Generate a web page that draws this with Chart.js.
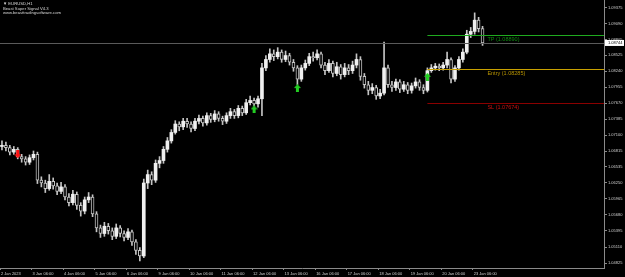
<!DOCTYPE html>
<html><head><meta charset="utf-8">
<script src="https://cdn.jsdelivr.net/npm/chart.js@4/dist/chart.umd.min.js"></script>
<style>html,body{margin:0;padding:0;background:#000;overflow:hidden}#wrap{width:625px;height:277px;position:relative}</style>
</head><body><div id="wrap"><canvas id="c" width="625" height="277"></canvas></div>
<script>
const titleLines = ['\u25BC EURUSD,H1', 'Beast Super Signal V4.3', 'www.beasttradingsoftware.com'];
const dayLabels = ['2 Jan 2023','3 Jan 06:00','4 Jan 06:00','5 Jan 06:00','6 Jan 06:00','9 Jan 06:00','10 Jan 06:00','11 Jan 06:00','12 Jan 06:00','13 Jan 06:00','16 Jan 06:00','17 Jan 06:00','18 Jan 06:00','19 Jan 06:00','20 Jan 06:00','23 Jan 06:00'];
const dayTickHours = [0,24,48,72,96,120,144,168,192,216,240,264,288,312,336,360];
const priceTicks = [1.04825,1.05110,1.05395,1.05680,1.05965,1.06250,1.06535,1.06815,1.07100,1.07385,1.07670,1.07955,1.08240,1.08525,1.08805,1.09090,1.09375];

const opens = [1.0690,1.0692,1.0688,1.0680,1.0685,1.0672,1.0668,1.0662,1.0670,1.0676,
1.0630,1.0625,1.0615,1.0628,1.0620,1.0610,1.0618,1.0600,1.0590,1.0605,
1.0585,1.0575,1.0595,1.0600,1.0570,1.0545,1.0535,1.0548,1.0540,1.0530,
1.0545,1.0535,1.0528,1.0538,1.0520,1.0505,1.0495,1.0625,1.0640,1.0630,
1.0660,1.0665,1.0685,1.0700,1.0715,1.0730,1.0725,1.0735,1.0730,1.0722,
1.0735,1.0740,1.0732,1.0745,1.0738,1.0748,1.0740,1.0735,1.0745,1.0752,
1.0745,1.0758,1.0750,1.0768,1.0772,1.0766,1.0775,1.0830,1.0845,1.0855,
1.0850,1.0858,1.0845,1.0852,1.0840,1.0830,1.0810,1.0830,1.0838,1.0850,
1.0848,1.0855,1.0835,1.0825,1.0838,1.0820,1.0832,1.0818,1.0830,1.0825,
1.0835,1.0845,1.0815,1.0800,1.0790,1.0795,1.0780,1.0785,1.0830,1.0800,
1.0795,1.0805,1.0792,1.0800,1.0790,1.0798,1.0805,1.0795,1.0790,1.0825,
1.0830,1.0833,1.0830,1.0835,1.0845,1.0810,1.0830,1.0845,1.0858,1.0890,
1.0895,1.0915,1.0900];
const highs = [1.0700,1.0698,1.0692,1.0690,1.0688,1.0676,1.0672,1.0675,1.0682,1.0680,
1.0636,1.0630,1.0640,1.0634,1.0625,1.0626,1.0622,1.0606,1.0612,1.0609,
1.0590,1.0600,1.0608,1.0604,1.0574,1.0550,1.0555,1.0553,1.0545,1.0552,
1.0549,1.0540,1.0544,1.0541,1.0524,1.0510,1.0632,1.0648,1.0645,1.0666,
1.0672,1.0690,1.0706,1.0720,1.0736,1.0734,1.0740,1.0740,1.0734,1.0740,
1.0746,1.0744,1.0750,1.0749,1.0754,1.0752,1.0744,1.0750,1.0758,1.0756,
1.0763,1.0762,1.0774,1.0780,1.0776,1.0780,1.0838,1.0852,1.0864,1.0862,
1.0866,1.0862,1.0860,1.0856,1.0845,1.0834,1.0835,1.0844,1.0856,1.0858,
1.0862,1.0858,1.0840,1.0845,1.0842,1.0840,1.0836,1.0838,1.0836,1.0842,
1.0855,1.0850,1.0820,1.0806,1.0802,1.0799,1.0792,1.0876,1.0835,1.0806,
1.0810,1.0809,1.0806,1.0804,1.0803,1.0812,1.0809,1.0800,1.0830,1.0836,
1.0838,1.0837,1.0840,1.0858,1.0848,1.0834,1.0850,1.0864,1.0897,1.0902,
1.0928,1.0920,1.0904];
const lows = [1.0684,1.0682,1.0675,1.0676,1.0668,1.0662,1.0657,1.0658,1.0666,1.0624,
1.0618,1.0608,1.0612,1.0614,1.0604,1.0606,1.0595,1.0584,1.0586,1.0578,
1.0566,1.0570,1.0590,1.0565,1.0538,1.0528,1.0530,1.0534,1.0524,1.0526,
1.0529,1.0522,1.0524,1.0514,1.0498,1.0486,1.0492,1.0615,1.0622,1.0626,
1.0652,1.0660,1.0680,1.0696,1.0712,1.0718,1.0720,1.0724,1.0716,1.0718,
1.0730,1.0726,1.0728,1.0733,1.0734,1.0735,1.0729,1.0731,1.0740,1.0740,
1.0741,1.0745,1.0747,1.0764,1.0762,1.0760,1.0745,1.0825,1.0840,1.0843,
1.0846,1.0840,1.0841,1.0835,1.0824,1.0800,1.0806,1.0826,1.0834,1.0842,
1.0844,1.0830,1.0818,1.0822,1.0814,1.0816,1.0810,1.0814,1.0818,1.0820,
1.0830,1.0808,1.0794,1.0782,1.0784,1.0774,1.0775,1.0782,1.0795,1.0788,
1.0790,1.0786,1.0788,1.0784,1.0785,1.0794,1.0790,1.0784,1.0787,1.0822,
1.0826,1.0825,1.0826,1.0830,1.0803,1.0806,1.0826,1.0840,1.0855,1.0884,
1.0890,1.0894,1.0870];
const closes = [1.0692,1.0688,1.0680,1.0685,1.0672,1.0668,1.0662,1.0670,1.0676,1.0630,
1.0625,1.0615,1.0628,1.0620,1.0610,1.0618,1.0600,1.0590,1.0605,1.0585,
1.0575,1.0595,1.0600,1.0570,1.0545,1.0535,1.0548,1.0540,1.0530,1.0545,
1.0535,1.0528,1.0538,1.0520,1.0505,1.0495,1.0625,1.0640,1.0630,1.0660,
1.0665,1.0685,1.0700,1.0715,1.0730,1.0725,1.0735,1.0730,1.0722,1.0735,
1.0740,1.0732,1.0745,1.0738,1.0748,1.0740,1.0735,1.0745,1.0752,1.0745,
1.0758,1.0750,1.0768,1.0772,1.0766,1.0775,1.0830,1.0845,1.0855,1.0850,
1.0858,1.0845,1.0852,1.0840,1.0830,1.0810,1.0830,1.0838,1.0850,1.0848,
1.0855,1.0835,1.0825,1.0838,1.0820,1.0832,1.0818,1.0830,1.0825,1.0835,
1.0845,1.0815,1.0800,1.0790,1.0795,1.0780,1.0785,1.0830,1.0800,1.0795,
1.0805,1.0792,1.0800,1.0790,1.0798,1.0805,1.0795,1.0790,1.0825,1.0830,
1.0833,1.0830,1.0835,1.0845,1.0810,1.0830,1.0845,1.0858,1.0890,1.0895,
1.0915,1.0900,1.08744];

const buySignalBars = [64, 75, 108];
const buySignalPrices = [1.0756, 1.0794, 1.0814];
const sellSignalBars = [4];
const sellSignalPrices = [1.0676];
const levelNames = ['TP', 'Entry', 'SL'];
const levelValues = [1.08890, 1.08285, 1.07674];
const currentPrice = 1.08744;

const BAR_HOURS = 3;
const barHour = i => BAR_HOURS * i + 1.5;

function arrowImg(color, up) {
  const c = document.createElement('canvas'); c.width = 7; c.height = 8;
  const g = c.getContext('2d'); g.fillStyle = color;
  g.save();
  if (!up) { g.translate(0, 8); g.scale(1, -1); }
  g.beginPath(); g.moveTo(3.5, 0); g.lineTo(7, 4); g.lineTo(0, 4); g.closePath(); g.fill();
  g.fillRect(2, 4, 3, 4);
  g.restore();
  return c;
}

const levelColors = {TP: ['#1faa1f', '#0f8a0f'], Entry: ['#c8a000', '#b89400'], SL: ['#8a0000', '#c81010']};

const overlay = {
  id: 'overlay',
  afterDatasetsDraw(chart) {
    const ctx = chart.ctx, y = chart.scales.y, x = chart.scales.x, a = chart.chartArea;
    ctx.save();
    const cy = Math.round(y.getPixelForValue(currentPrice)) + 0.5;
    ctx.strokeStyle = '#5a5a5a'; ctx.lineWidth = 1;
    ctx.beginPath(); ctx.moveTo(a.left, cy); ctx.lineTo(a.right, cy); ctx.stroke();
    const startX = x.getPixelForValue(barHour(buySignalBars[buySignalBars.length - 1]));
    ctx.font = '5.5px "Liberation Sans", Arial, sans-serif';
    ctx.textBaseline = 'top'; ctx.textAlign = 'left';
    levelNames.forEach((n, k) => {
      const ly = Math.round(y.getPixelForValue(levelValues[k])) + 0.5;
      const col = levelColors[n];
      ctx.strokeStyle = col[0]; ctx.lineWidth = 1;
      ctx.beginPath(); ctx.moveTo(startX, ly); ctx.lineTo(a.right, ly); ctx.stroke();
      ctx.fillStyle = col[1];
      ctx.fillText(n + ' (' + levelValues[k].toFixed(5) + ')', startX + 60, ly + 1);
    });
    ctx.restore();
  },
  afterDraw(chart) {
    const ctx = chart.ctx, y = chart.scales.y, a = chart.chartArea;
    ctx.save();
    ctx.font = '4.2px "Liberation Sans", Arial, sans-serif';
    ctx.fillStyle = '#d8d8d8'; ctx.textBaseline = 'middle'; ctx.textAlign = 'left';
    titleLines.forEach((t, k) => ctx.fillText(t, 3, 4 + k * 4.4));
    const cy = y.getPixelForValue(currentPrice);
    ctx.fillStyle = '#ffffff';
    ctx.fillRect(a.right + 1, cy - 3, 19, 6);
    ctx.fillStyle = '#000000'; ctx.font = '4px "Liberation Sans", Arial, sans-serif';
    ctx.fillText(currentPrice.toFixed(5), a.right + 4, cy + 0.3);
    ctx.restore();
  }
};

const wickData = closes.map((c, i) => ({x: barHour(i), y: [lows[i], highs[i]]}));
const bodyData = closes.map((c, i) => ({x: barHour(i), y: [opens[i], c]}));
const bull = closes.map((c, i) => c >= opens[i]);

new Chart(document.getElementById('c'), {
  type: 'bar',
  data: {
    datasets: [
      {data: wickData, backgroundColor: '#c4c4c4', barThickness: 1, grouped: false, order: 3},
      {data: bodyData, backgroundColor: bull.map(b => b ? '#f0f0f0' : '#000000'),
       borderColor: '#c4c4c4', borderWidth: bull.map(b => b ? 0 : 1), borderSkipped: false,
       barThickness: 3, minBarLength: 1, grouped: false, order: 2},
      {type: 'scatter', data: buySignalBars.map((b, k) => ({x: barHour(b), y: buySignalPrices[k]})), pointStyle: arrowImg('#22cc22', true), order: 1, clip: false},
      {type: 'scatter', data: sellSignalBars.map((b, k) => ({x: barHour(b), y: sellSignalPrices[k]})), pointStyle: arrowImg('#ff1010', false), order: 1, clip: false}
    ]
  },
  options: {
    responsive: false, animation: false, devicePixelRatio: 1,
    layout: {padding: 0, autoPadding: false},
    plugins: {legend: {display: false}, tooltip: {enabled: false}},
    scales: {
      x: {
        type: 'linear', min: 0, max: 460, offset: false,
        afterBuildTicks: s => { s.ticks = dayTickHours.map(v => ({value: v})); },
        afterFit: s => { s.height = 9; s.paddingLeft = 0; s.paddingRight = 0; },
        ticks: {callback: (v, i) => dayLabels[i], align: 'start', autoSkip: false, maxRotation: 0, minRotation: 0, padding: 1, labelOffset: 1,
                color: '#d0d0d0', font: {size: 4, family: '"Liberation Sans", Arial, sans-serif'}},
        grid: {drawOnChartArea: false, tickLength: 2, color: '#8a8a8a', offset: false},
        border: {color: '#8a8a8a'}
      },
      y: {
        position: 'right', min: 1.04736, max: 1.09509,
        afterBuildTicks: s => { s.ticks = priceTicks.map(v => ({value: v})); },
        afterFit: s => { s.width = 21; s.paddingTop = 0; s.paddingBottom = 0; },
        ticks: {callback: (v, i) => priceTicks[i].toFixed(5), padding: 1, color: '#d0d0d0',
                font: {size: 4, family: '"Liberation Sans", Arial, sans-serif'}},
        grid: {drawOnChartArea: false, tickLength: 3, color: '#8a8a8a'},
        border: {color: '#8a8a8a'}
      }
    }
  },
  plugins: [overlay]
});
</script>
</body></html>
